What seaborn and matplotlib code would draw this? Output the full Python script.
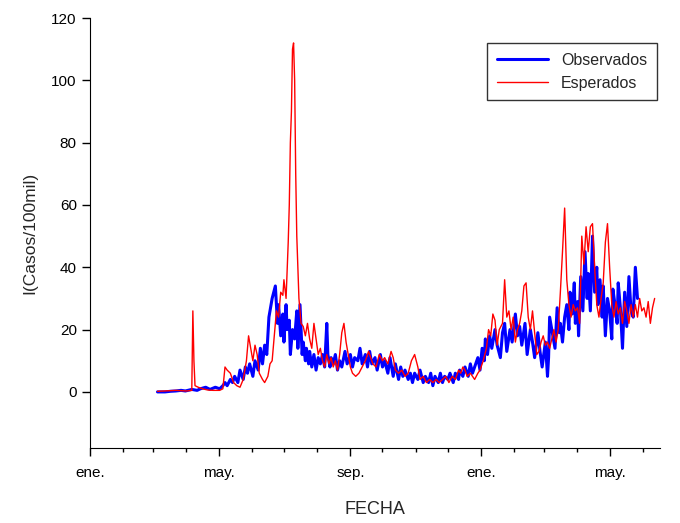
import numpy as np
import pandas as pd
import matplotlib
matplotlib.use("Agg")
import matplotlib.pyplot as plt
import matplotlib.dates as mdates
import seaborn as sns

start = pd.Timestamp("2021-01-01")

obs_day = [63,70,75,80,85,89,95,100,103,108,112,117,121,124,126,128,131,133,135,138,140,143,145,147,149,152,154,157,159,161,163,165,167,170,173,175,176,178,180,181,183,184,186,187,189,191,193,194,196,198,199,201,202,204,205,207,209,211,213,215,217,219,221,222,224,225,227,229,231,233,235,238,240,243,245,247,250,252,254,257,259,261,263,266,268,271,273,275,278,280,283,285,288,290,292,294,297,299,301,303,306,308,311,313,316,318,320,322,325,327,329,331,334,336,339,341,344,345,348,350,353,355,357,359,362,364,366,368,369,371,373,375,378,380,383,385,387,389,392,394,397,399,401,403,406,408,411,413,415,418,420,422,425,427,428,429,431,434,436,438,439,441,443,445,447,448,450,452,453,455,456,458,460,462,464,465,467,469,471,473,474,476,478,479,481,483,485,487,488,490,492,493,495,497,499,501,503,505,507,509,511]
obs_val = [0,0,0.2,0.3,0.5,0.3,0.8,0.5,1,1.5,0.8,1.5,1,2,3,2,4,3,5,3,7,4,8,6,9,5,10,7,14,9,15,12,24,30,34,22,28,18,25,16,28,20,23,12,20,17,26,14,28,12,16,10,14,9,13,8,12,7,11,9,12,8,22,12,8,11,9,12,7,10,8,13,9,12,8,11,10,14,9,12,8,13,9,11,7,12,8,10,6,11,5,9,4,8,5,7,4,6,3,6,4,7,3,5,3,6,2,5,3,6,3,5,4,6,3,6,4,7,5,8,5,9,6,8,11,7,14,10,17,12,18,14,20,15,11,19,22,13,20,16,25,18,21,15,22,12,20,16,11,19,13,8,16,5,11,24,20,14,27,19,22,16,24,28,20,32,25,35,22,29,18,37,26,45,30,38,26,50,32,40,28,36,24,34,18,30,26,17,33,28,22,35,27,14,32,21,37,26,24,40,30]

exp_day = [63,70,80,90,95,96,97,98,101,105,110,115,121,124,126,128,131,134,137,140,143,146,148,150,152,154,156,158,161,163,166,168,170,172,174,176,178,180,181,183,185,186,187,188,189,190,191,192,193,195,197,199,201,203,205,207,209,211,213,215,217,219,221,223,225,227,229,231,233,235,237,239,241,243,245,248,251,254,257,260,262,264,267,270,273,275,278,281,283,285,288,291,294,297,300,303,306,308,311,314,317,320,323,326,329,332,335,338,341,344,346,348,350,352,355,357,359,362,364,367,370,372,374,376,378,380,382,385,387,389,391,393,395,397,399,401,403,405,407,409,411,413,415,417,419,421,423,425,427,429,431,433,435,437,439,441,443,445,447,449,451,453,455,457,459,461,463,465,467,469,471,473,475,477,479,481,483,485,487,489,491,493,495,497,499,501,503,505,507,509,511,513,515,517,519,521,523,525,527]
exp_val = [0.2,0.3,0.5,0.3,0.5,26,10,2,1.5,1,0.6,0.5,0.5,1,8,7,6,3,2,1.5,4,10,18,14,10,15,12,6,4,3,5,9,10,18,26,24,32,31,36,30,48,60,80,90,110,112,100,70,50,30,22,21,18,22,17,14,22,17,12,14,10,8,12,9,11,8,10,7,12,19,22,16,12,8,6,5,6,8,10,13,11,9,8,12,10,11,9,13,11,7,6,7,5,6,10,12,8,4,5,3,4,3,4,3,4,5,3,5,4,7,6,8,7,5,6,5,4,6,7,10,14,20,18,25,23,15,20,22,36,24,26,20,24,16,20,22,26,34,35,24,20,26,19,12,13,16,18,15,16,14,17,20,16,20,32,45,59,36,28,24,28,26,27,22,50,41,53,45,53,54,40,28,24,30,35,48,54,40,28,24,29,25,27,22,29,26,22,28,24,28,24,30,26,27,24,29,22,27,30]

month_abbr = {1: "ene.", 5: "may.", 9: "sep."}
y_ticks = [0, 20, 40, 60, 80, 100, 120]

df_obs = pd.DataFrame({"fecha": start + pd.to_timedelta(obs_day, unit="D"), "I": obs_val})
df_exp = pd.DataFrame({"fecha": start + pd.to_timedelta(exp_day, unit="D"), "I": exp_val})

sns.set_style("ticks")
plt.rcParams["font.family"] = ["Liberation Sans", "DejaVu Sans"]

fig = plt.figure(figsize=(6.8, 5.23), dpi=100)
ax = fig.add_axes([90/680, 1-448/523, 570/680, 430/523])
sns.lineplot(data=df_obs, x="fecha", y="I", ax=ax, color="#0000ff", lw=2.2, label="Observados")
sns.lineplot(data=df_exp, x="fecha", y="I", ax=ax, color="#ff0000", lw=1.0, label="Esperados")

ax.set_xlim(start, start + pd.Timedelta(days=532))
ax.set_ylim(-18, 120)
ax.set_yticks(y_ticks)
ax.xaxis.set_major_locator(mdates.MonthLocator(bymonth=[1, 5, 9]))
ax.xaxis.set_minor_locator(mdates.MonthLocator())
ax.xaxis.set_major_formatter(matplotlib.ticker.FuncFormatter(lambda v, p: month_abbr[mdates.num2date(v).month]))
ax.tick_params(axis="both", which="major", length=6, width=1, labelsize=11, color="black", labelcolor="black")
ax.tick_params(axis="x", which="major", pad=7)
ax.tick_params(axis="x", which="minor", length=3, width=1, color="black")
for s in ["top", "right"]:
    ax.spines[s].set_visible(False)
for s in ["left", "bottom"]:
    ax.spines[s].set_color("black")
ax.set_xlabel("FECHA", fontsize=13, labelpad=15)
ax.set_ylabel("I(Casos/100mil)", fontsize=12.5, labelpad=10)
leg = ax.legend(loc="upper right", bbox_to_anchor=(1.008, 0.96), fontsize=11.5, frameon=True, fancybox=False,
                edgecolor="black", handlelength=3.2, borderpad=0.6)
leg.get_frame().set_linewidth(1)
fig.savefig("out.png", dpi=100)
